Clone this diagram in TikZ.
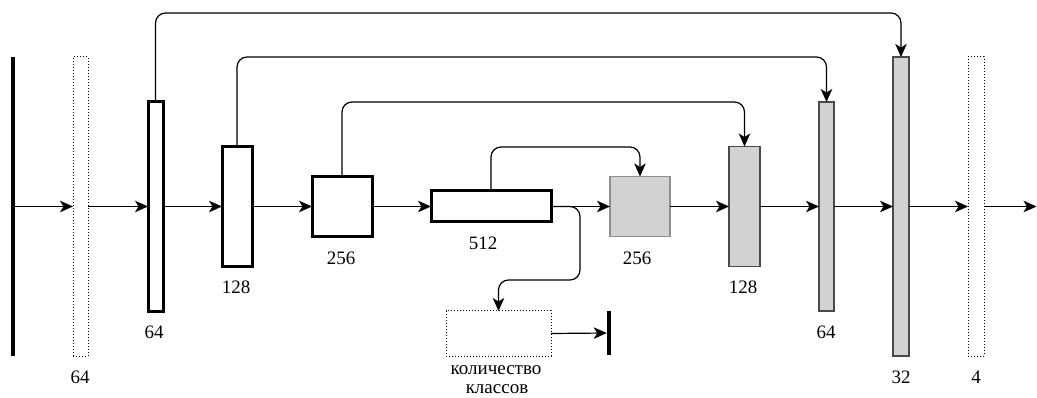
\documentclass[tikz,border=0pt]{standalone}
\usepackage{fontspec}
\setmainfont{Liberation Serif}
\usetikzlibrary{arrows.meta}
\definecolor{fillgray}{HTML}{D1D2D4}
\definecolor{edgegray}{HTML}{4A4A4A}
\definecolor{lightedge}{HTML}{8E8E8E}
\begin{document}
\begin{tikzpicture}[x=1pt,y=-1pt,
  >={Stealth[length=13pt,width=11.5pt,inset=3.5pt]},
  every node/.style={inner sep=0pt,outer sep=0pt},
  conn/.style={line width=1.2pt,->},
  skip/.style={line width=1.2pt,->,rounded corners=10pt},
  encbox/.style={draw=black,line width=3pt,fill=white},
  decbox/.style={draw=edgegray,line width=1.5pt,fill=fillgray},
  decsq/.style={draw=lightedge,line width=1.5pt,fill=fillgray},
  dotbox/.style={draw=black,dotted,line width=1pt},
  solidbar/.style={fill=black,minimum width=4.5pt},
  lbl/.style={font=\fontsize{19}{22}\selectfont}]
\useasboundingbox (0,0) rectangle (1037,398);

% main row of layers
\node[solidbar,minimum height=298pt] (inp) at (13,206.5) {};
\node[dotbox,minimum width=15pt,minimum height=299pt] (pad) at (80.5,206.5) {};
\node[encbox,minimum width=15pt,minimum height=210pt] (e64) at (155.5,206.5) {};
\node[encbox,minimum width=30pt,minimum height=120pt] (e128) at (237,206.5) {};
\node[encbox,minimum width=60pt,minimum height=60pt] (e256) at (342,206.5) {};
\node[encbox,minimum width=120pt,minimum height=31pt] (e512) at (491,206.5) {};
\node[decsq,minimum width=60pt,minimum height=60pt] (d256) at (640,206.5) {};
\node[decbox,minimum width=31pt,minimum height=120pt] (d128) at (744.5,206.5) {};
\node[decbox,minimum width=15pt,minimum height=209pt] (d64) at (826.5,206.5) {};
\node[decbox,minimum width=16pt,minimum height=299pt] (d32) at (901,206.5) {};
\node[dotbox,minimum width=16pt,minimum height=299pt] (outl) at (976,206.5) {};
\coordinate (fin) at (1036.5,206.5);

% classifier branch
\node[dotbox,minimum width=105pt,minimum height=45pt] (cls) at (498.5,333.5) {};
\node[solidbar,minimum height=44pt] (clsbar) at (609,333) {};
\coordinate (bend) at (580,280);

% labels
\node[lbl] (lpad) at (80,377) {64};
\node[lbl] (le64) at (154,332) {64};
\node[lbl] (le128) at (236,287) {128};
\node[lbl] (le256) at (341,258) {256};
\node[lbl] (le512) at (483,243) {512};
\node[lbl] (ld256) at (637,258) {256};
\node[lbl] (ld128) at (743,287) {128};
\node[lbl] (ld64) at (826,332) {64};
\node[lbl] (ld32) at (901,377) {32};
\node[lbl] (lout) at (976,377) {4};
\node[lbl] (lcls1) at (496,370) {количество};
\node[lbl] (lcls2) at (497,389.5) {классов};

% forward connections
\draw[conn] (inp.east) -- (pad.west);
\draw[conn] (pad.east) -- (e64.west);
\draw[conn] (e64.east) -- (e128.west);
\draw[conn] (e128.east) -- (e256.west);
\draw[conn] (e256.east) -- (e512.west);
\draw[conn] (e512.east) -- (d256.west);
\draw[conn] (d256.east) -- (d128.west);
\draw[conn] (d128.east) -- (d64.west);
\draw[conn] (d64.east) -- (d32.west);
\draw[conn] (d32.east) -- (outl.west);
\draw[conn] (outl.east) -- (fin);

% skip connections
\coordinate (h1) at (0,13);
\coordinate (h2) at (0,57);
\coordinate (h3) at (0,102);
\coordinate (h4) at (0,147);
\draw[skip] (e64.north) -- (e64.north |- h1) -| (d32.north);
\draw[skip] (e128.north) -- (e128.north |- h2) -| (d64.north);
\draw[skip] (e256.north) -- (e256.north |- h3) -| (d128.north);
\draw[skip] (e512.north) -- (e512.north |- h4) -| (d256.north);

% classifier head
\draw[skip] (e512.east) -| (bend) -| (cls.north);
\draw[conn] (cls.east) -- (clsbar.west);
\end{tikzpicture}
\end{document}
